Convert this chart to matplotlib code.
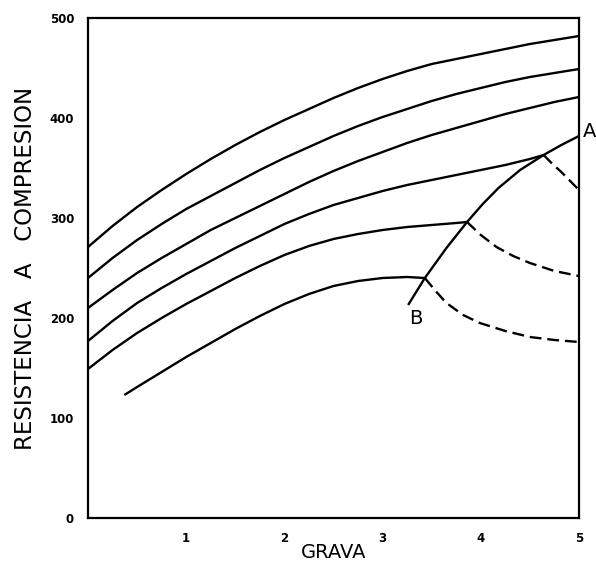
import matplotlib
matplotlib.use("Agg")
import matplotlib.pyplot as plt

# solid curves, every 0.25 of GRAVA
X_FULL = [0, 0.25, 0.5, 0.75, 1, 1.25, 1.5, 1.75, 2, 2.25, 2.5,
          2.75, 3, 3.25, 3.5, 3.75, 4, 4.25, 4.5, 4.75, 5]
C1 = [271, 292, 311, 328, 344, 359, 373, 386, 398, 409, 420,
      430, 439, 447, 454, 459, 464, 469, 474, 478, 482]
C2 = [240, 260, 278, 294, 309, 322, 335, 348, 360, 371, 382,
      392, 401, 409, 417, 424, 430, 436, 441, 445, 449]
C3 = [210, 228, 245, 260, 274, 288, 300, 312, 324, 336, 347,
      357, 366, 375, 383, 390, 397, 404, 410, 416, 421]
X4 = [0, 0.25, 0.5, 0.75, 1, 1.25, 1.5, 1.75, 2, 2.25, 2.5,
      2.75, 3, 3.25, 3.5, 3.75, 4, 4.25, 4.5, 4.64]
C4 = [177, 197, 215, 230, 244, 257, 270, 282, 294, 304, 313,
      320, 327, 333, 338, 343, 348, 353, 359, 363]
X5 = [0, 0.25, 0.5, 0.75, 1, 1.25, 1.5, 1.75, 2, 2.25, 2.5,
      2.75, 3, 3.25, 3.5, 3.75, 3.86]
C5 = [149, 168, 185, 200, 214, 227, 240, 252, 263, 272, 279,
      284, 288, 291, 293, 295, 296]
X6 = [0.37, 0.5, 0.75, 1, 1.25, 1.5, 1.75, 2, 2.25, 2.5, 2.75, 3, 3.25, 3.43]
C6 = [123, 131, 146, 161, 175, 189, 202, 214, 224, 232, 237, 240, 241, 240]

# line B-A
XA = [3.26, 3.43, 3.65, 3.86, 4.02, 4.18, 4.4, 4.64, 4.82, 5]
YA = [213, 240, 270, 296, 314, 330, 348, 363, 373, 382]

# dashed branches
XD1 = [4.64, 4.73, 4.82, 4.91, 5]
YD1 = [363, 354, 346, 337, 328]
XD2 = [3.86, 4.0, 4.16, 4.33, 4.5, 4.75, 5]
YD2 = [296, 283, 271, 262, 255, 247, 242]
XD3 = [3.43, 3.54, 3.65, 3.82, 3.99, 4.25, 4.5, 4.75, 5]
YD3 = [240, 227, 215, 203, 195, 187, 181, 178, 176]

XTICKS = [1, 2, 3, 4, 5]
YTICKS = [0, 100, 200, 300, 400, 500]

fig = plt.figure(figsize=(5.96, 5.63), dpi=100)
ax = fig.add_axes([88 / 596, 45 / 563, 491 / 596, 500 / 563])

lw = 1.7
for xs, ys in [(X_FULL, C1), (X_FULL, C2), (X_FULL, C3), (X4, C4), (X5, C5), (X6, C6), (XA, YA)]:
    ax.plot(xs, ys, color="black", lw=lw, solid_capstyle="butt", solid_joinstyle="round")
for xs, ys in [(XD1, YD1), (XD2, YD2), (XD3, YD3)]:
    ax.plot(xs, ys, color="black", lw=lw, ls=(0, (5, 2.5)))

ax.text(5.04, 381, "A", fontsize=14, ha="left", va="baseline")
ax.text(3.34, 199, "B", fontsize=14, ha="center", va="center")

ax.set_xlim(0, 5)
ax.set_ylim(0, 500)
ax.set_xticks(XTICKS)
ax.set_yticks(YTICKS)
ax.tick_params(length=0, labelsize=8.5, pad=10)
for lab in ax.get_xticklabels() + ax.get_yticklabels():
    lab.set_fontweight("bold")
for sp in ax.spines.values():
    sp.set_linewidth(1.6)

ax.set_xlabel("GRAVA", fontsize=14, labelpad=-1)
ax.set_ylabel("RESISTENCIA   A   COMPRESION", fontsize=16.5, labelpad=9)

fig.savefig("out.png", dpi=100)
